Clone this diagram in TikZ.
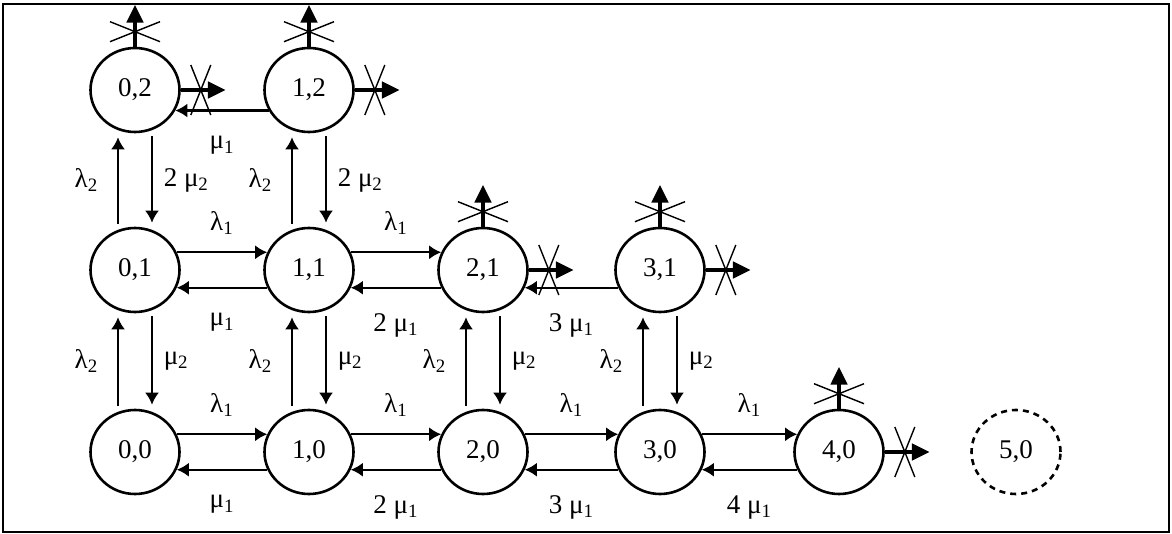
\documentclass[tikz,border=0pt]{standalone}
\usepackage{fontspec}
\setmainfont{Liberation Serif}
\usetikzlibrary{arrows.meta,calc,shapes.geometric}

\begin{document}
\begin{tikzpicture}[x=0.5pt,y=-0.5pt,line width=1.1pt,
  font=\fontsize{13.5}{15}\selectfont,
  state/.style={ellipse,draw,line width=1.3pt,minimum width=44.5pt,minimum height=42pt,inner sep=0pt},
  ghost/.style={state,dash pattern=on 3pt off 2.5pt},
  flow/.style={-{Latex[length=6pt,width=7pt]}},
  vflow/.style={flow,shorten <=1.5pt,shorten >=2pt},
  blocked/.style={line width=2.4pt,-{Triangle[length=9pt,width=8pt]}},
  cross/.style={line width=0.7pt}]
\useasboundingbox (0,0) rectangle (1172,534);
% ---------- frame ----------
\draw[line width=1.3pt] (3,4) rectangle (1169,532);
% ---------- states ----------
\node[state] (n02) at (135,90) {0,2};
\node[state] (n12) at (309,90) {1,2};
\node[state] (n01) at (135,270) {0,1};
\node[state] (n11) at (309,270) {1,1};
\node[state] (n21) at (483,270) {2,1};
\node[state] (n31) at (660,270) {3,1};
\node[state] (n00) at (135,452) {0,0};
\node[state] (n10) at (309,452) {1,0};
\node[state] (n20) at (483,452) {2,0};
\node[state] (n30) at (660,452) {3,0};
\node[state] (n40) at (839,452) {4,0};
\node[ghost] (n50) at (1016,452) {5,0};
% ---------- arrivals (to the right) ----------
\foreach \a/\b in {n01/n11,n11/n21,n00/n10,n10/n20,n20/n30,n30/n40}
  \draw[flow] (\a.23) -- node[above=5pt] {λ\textsubscript{1}} (\b.157);
% ---------- services (to the left) ----------
\foreach \a/\b/\t in {n11/n01/{μ\textsubscript{1}},n21/n11/{2 μ\textsubscript{1}},
    n31/n21/{3 μ\textsubscript{1}},n10/n00/{μ\textsubscript{1}},n20/n10/{2 μ\textsubscript{1}},
    n30/n20/{3 μ\textsubscript{1}},n40/n30/{4 μ\textsubscript{1}}}
  \draw[flow] (\a.203) -- node[below=9pt] {\t} (\b.-23);
\draw[flow] (n12.207) -- node[below=9pt] {μ\textsubscript{1}} (n02.-27);
% ---------- vertical: up and down ----------
\foreach \a/\b in {n01/n02,n11/n12,n00/n01,n10/n11,n20/n21,n30/n31}
  \draw[vflow] ([xshift=-8.5pt]\a.north) -- node[left=6pt] {λ\textsubscript{2}} ([xshift=-8.5pt]\b.south);
\foreach \a/\b/\t in {n02/n01/{2 μ\textsubscript{2}},n12/n11/{2 μ\textsubscript{2}},
    n01/n00/{μ\textsubscript{2}},n11/n10/{μ\textsubscript{2}},n21/n20/{μ\textsubscript{2}},
    n31/n30/{μ\textsubscript{2}}}
  \draw[vflow] ([xshift=8.5pt]\a.south) -- node[right=2pt] {\t} ([xshift=8.5pt]\b.north);
% ---------- blocked exits ----------
\foreach \n in {n02,n12,n21,n31,n40} {
  \draw[blocked] (\n.north) -- ++(0,-42);
  \draw[cross] ($(\n.north)+(-25,-25)$) -- ++(50,20) ($(\n.north)+(-25,-5)$) -- ++(50,-20);
  \draw[blocked] (\n.east) -- ++(45,0);
  \draw[cross] ($(\n.east)+(10,-25)$) -- ++(20,50) ($(\n.east)+(10,25)$) -- ++(20,-50);
}
\end{tikzpicture}
\end{document}
